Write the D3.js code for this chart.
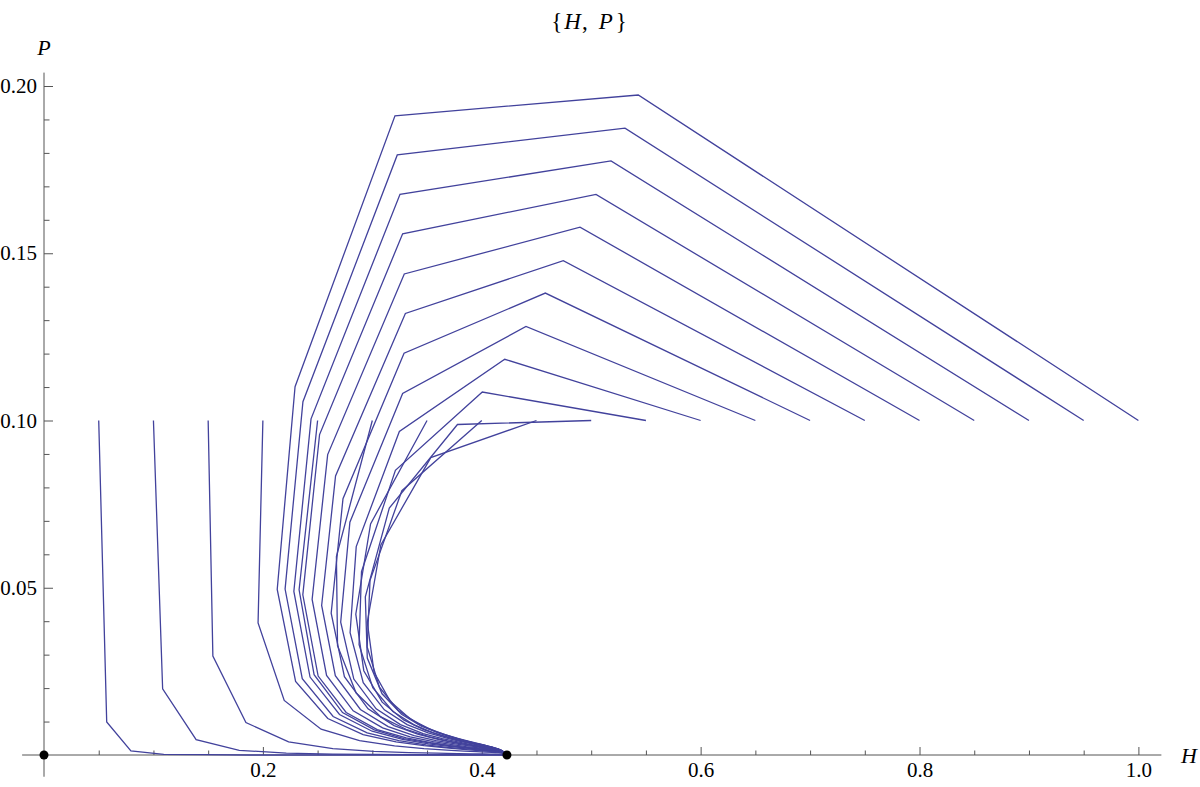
<!DOCTYPE html>
<html>
<head>
<meta charset="utf-8">
<script src="https://cdn.jsdelivr.net/npm/d3@7"></script>
<style>
  body { margin: 0; background: #fff; }
  text { font-family: "Liberation Serif", "DejaVu Serif", serif; }
</style>
</head>
<body>
<div id="chart"></div>
<script>
var width = 1200;
var height = 787;

// trajectories {H, P}, one per starting H (P starts at 0.1)
var t05 = [[0.05,0.1],[0.0573,0.0099],[0.0794,0.0012],[0.1094,0.0002],[0.1462,0.0001],[0.188,0],[0.2317,0],[0.2737,0],[0.3108,0],[0.3414,0],[0.3651,0],[0.3827,0],[0.3953,0],[0.404,0],[0.41,0],[0.4145,0],[0.423,0]];
var t10 = [[0.1,0.1],[0.1084,0.0198],[0.139,0.0046],[0.1784,0.0014],[0.2214,0.00055],[0.2639,0.00027],[0.3025,0.00016],[0.335,0.0001],[0.3605,0.00007],[0.3796,0.00005],[0.3933,0.00004],[0.4029,0.00003],[0.4095,0.00002],[0.414,0.00002],[0.423,0]];
var t15 = [[0.15,0.1],[0.1543,0.0296],[0.1845,0.0097],[0.2235,0.0039],[0.2639,0.0019],[0.3014,0.0011],[0.3333,0.00074],[0.3587,0.00054],[0.3778,0.00043],[0.3917,0.00036],[0.4015,0.00031],[0.4082,0.00027],[0.4128,0.00024],[0.416,0.00021],[0.4195,0.00015],[0.4215,0.00008],[0.423,0]];
var t20 = [[0.2,0.1],[0.1956,0.0395],[0.2195,0.0163],[0.2532,0.0077],[0.2883,0.0043],[0.3203,0.0027],[0.3471,0.0019],[0.3681,0.00145],[0.3839,0.00117],[0.3953,0.00099],[0.4034,0.00086],[0.4091,0.00077],[0.413,0.0007],[0.4157,0.00064],[0.419,0.00055],[0.4205,0.00045],[0.4218,0.0003],[0.423,0]];
var t25 = [[0.25,0.1],[0.2331,0.0494],[0.2468,0.024],[0.2728,0.0127],[0.3018,0.0075],[0.3289,0.0049],[0.352,0.0036],[0.3704,0.0028],[0.3844,0.0022],[0.3948,0.0019],[0.4022,0.0016],[0.4076,0.0014],[0.4114,0.0013],[0.4141,0.0012],[0.416,0.0011],[0.4188,0.0009],[0.4205,0.0007],[0.4222,0.0003],[0.423,0]];
var t30 = [[0.3,0.1],[0.2672,0.0593],[0.2682,0.0327],[0.2851,0.0186],[0.3078,0.0114],[0.3308,0.0077],[0.3513,0.0055],[0.3683,0.0042],[0.3817,0.0034],[0.3918,0.0029],[0.3994,0.0025],[0.4049,0.0022],[0.4089,0.0019],[0.4118,0.0017],[0.4139,0.0016],[0.4155,0.0014],[0.418,0.0012],[0.4198,0.0009],[0.4214,0.0005],[0.423,0]];
var t35 = [[0.35,0.1],[0.2984,0.0691],[0.2849,0.0421],[0.2922,0.0252],[0.309,0.0158],[0.3286,0.0105],[0.3475,0.0075],[0.3639,0.0057],[0.3773,0.0045],[0.3878,0.0037],[0.3958,0.0032],[0.4018,0.0028],[0.4063,0.0024],[0.4096,0.0022],[0.4121,0.002],[0.4139,0.0018],[0.4165,0.0015],[0.419,0.0011],[0.421,0.0006],[0.423,0]];
var t40 = [[0.4,0.1],[0.327,0.079],[0.2979,0.0522],[0.2953,0.0323],[0.3065,0.0203],[0.3235,0.0134],[0.3415,0.0094],[0.358,0.007],[0.372,0.0055],[0.3833,0.0044],[0.3921,0.0037],[0.3988,0.0032],[0.4039,0.0028],[0.4077,0.0025],[0.4105,0.0022],[0.4126,0.002],[0.4155,0.0017],[0.4183,0.0013],[0.4207,0.0007],[0.423,0]];
var t45 = [[0.45,0.1],[0.3534,0.0889],[0.3078,0.0628],[0.2954,0.0397],[0.3016,0.0247],[0.3165,0.016],[0.3342,0.0109],[0.3514,0.0079],[0.3664,0.0061],[0.3788,0.0049],[0.3886,0.0041],[0.3961,0.0035],[0.4018,0.003],[0.4061,0.0026],[0.4093,0.0024],[0.4117,0.0021],[0.415,0.0018],[0.418,0.0014],[0.4205,0.0008],[0.423,0]];
var t50 = [[0.5,0.1],[0.3778,0.0988],[0.3155,0.0738],[0.2936,0.0473],[0.2954,0.029],[0.3089,0.0183],[0.3267,0.0122],[0.3448,0.0086],[0.361,0.0065],[0.3746,0.0051],[0.3854,0.0042],[0.3938,0.0035],[0.4001,0.0031],[0.4049,0.0027],[0.4084,0.0024],[0.4111,0.0021],[0.4147,0.0018],[0.4178,0.0014],[0.4205,0.0008],[0.423,0]];
var t55 = [[0.55,0.1],[0.4005,0.1085],[0.3211,0.0851],[0.2901,0.0548],[0.2879,0.033],[0.3004,0.0201],[0.3188,0.013],[0.3381,0.009],[0.3558,0.0066],[0.3707,0.0052],[0.3826,0.0042],[0.3918,0.0035],[0.3988,0.003],[0.4041,0.0026],[0.408,0.0023],[0.4109,0.0021],[0.4145,0.0018],[0.4177,0.0014],[0.4205,0.0008],[0.423,0]];
var t60 = [[0.6,0.1],[0.421,0.1183],[0.3247,0.0967],[0.2853,0.0623],[0.2797,0.0366],[0.2917,0.0216],[0.311,0.0135],[0.3318,0.0091],[0.351,0.0066],[0.3672,0.0051],[0.3802,0.0041],[0.3903,0.0034],[0.3979,0.0029],[0.4035,0.0025],[0.4077,0.0022],[0.4107,0.002],[0.4145,0.0017],[0.4177,0.0013],[0.4205,0.0008],[0.423,0]];
var t65 = [[0.65,0.1],[0.4404,0.1281],[0.3277,0.1081],[0.2795,0.0696],[0.2711,0.0397],[0.2831,0.0227],[0.3035,0.0138],[0.3257,0.0091],[0.3464,0.0064],[0.364,0.0049],[0.3781,0.0039],[0.3889,0.0032],[0.397,0.0027],[0.4031,0.0024],[0.4075,0.0021],[0.4107,0.0019],[0.4147,0.0016],[0.418,0.0012],[0.4207,0.0007],[0.423,0]];
var t70 = [[0.7,0.1],[0.4581,0.1381],[0.329,0.1201],[0.2732,0.0766],[0.2624,0.0424],[0.2745,0.0234],[0.2961,0.0138],[0.3199,0.0088],[0.3421,0.0062],[0.361,0.0046],[0.3761,0.0036],[0.3877,0.003],[0.3964,0.0026],[0.4028,0.0022],[0.4074,0.002],[0.4108,0.0018],[0.4148,0.0015],[0.4182,0.0011],[0.4208,0.0006],[0.423,0]];
var t75 = [[0.75,0.1],[0.4745,0.1478],[0.3302,0.132],[0.2664,0.0834],[0.2537,0.0447],[0.2662,0.0237],[0.2891,0.0136],[0.3145,0.0085],[0.3382,0.0058],[0.3583,0.0043],[0.3744,0.0034],[0.3867,0.0028],[0.3959,0.0024],[0.4026,0.002],[0.4075,0.0018],[0.411,0.0016],[0.415,0.0014],[0.4185,0.001],[0.421,0.0005],[0.423,0]];
var t80 = [[0.8,0.1],[0.4898,0.1578],[0.3292,0.1438],[0.2592,0.0898],[0.245,0.0465],[0.2582,0.0238],[0.2825,0.0132],[0.3094,0.0081],[0.3345,0.0054],[0.3558,0.004],[0.3728,0.0031],[0.3859,0.0025],[0.3955,0.0022],[0.4025,0.0019],[0.4075,0.0017],[0.4111,0.0015],[0.4152,0.0013],[0.4187,0.0009],[0.4212,0.0005],[0.423,0]];
var t85 = [[0.85,0.1],[0.5044,0.1676],[0.3277,0.1558],[0.2518,0.0958],[0.2365,0.0479],[0.2505,0.0236],[0.2761,0.0127],[0.3045,0.0076],[0.331,0.0051],[0.3535,0.0037],[0.3714,0.0028],[0.3851,0.0023],[0.3951,0.002],[0.4024,0.0017],[0.4076,0.0015],[0.4113,0.0013],[0.4155,0.0011],[0.4189,0.0008],[0.4213,0.0004],[0.423,0]];
var t90 = [[0.9,0.1],[0.5181,0.1776],[0.3253,0.1676],[0.244,0.1005],[0.2283,0.0489],[0.2431,0.0233],[0.27,0.0121],[0.2998,0.0071],[0.3276,0.0047],[0.3513,0.0033],[0.3701,0.0026],[0.3844,0.0021],[0.3949,0.0018],[0.4024,0.0015],[0.4078,0.0013],[0.4115,0.0012],[0.4157,0.001],[0.419,0.0007],[0.4214,0.0004],[0.423,0]];
var t95 = [[0.95,0.1],[0.5309,0.1874],[0.3228,0.1794],[0.2366,0.1056],[0.2203,0.0496],[0.236,0.0228],[0.2642,0.0115],[0.2953,0.0066],[0.3243,0.0043],[0.349,0.003],[0.3686,0.0023],[0.3835,0.0019],[0.3944,0.0016],[0.4022,0.0014],[0.4078,0.0012],[0.4116,0.0011],[0.4158,0.0009],[0.4192,0.0007],[0.4215,0.0004],[0.423,0]];
var t100 = [[1.0,0.1],[0.543,0.1973],[0.3207,0.1911],[0.2294,0.1101],[0.2131,0.0495],[0.2299,0.022],[0.2593,0.0109],[0.2916,0.0061],[0.3217,0.0039],[0.3472,0.0028],[0.3675,0.0021],[0.3829,0.0017],[0.3941,0.0014],[0.4022,0.0012],[0.4079,0.0011],[0.4117,0.001],[0.4158,0.0008],[0.4192,0.0006],[0.4215,0.0003],[0.423,0]];

var trayectorias = [t05, t10, t15, t20, t25, t30, t35, t40, t45, t50,
                    t55, t60, t65, t70, t75, t80, t85, t90, t95, t100];

// fixed points
var puntosFijos = [[0, 0], [0.423, 0]];

// ticks
var xTicks = [0.2, 0.4, 0.6, 0.8, 1.0];
var xMinorTicks = [0.05, 0.1, 0.15, 0.25, 0.3, 0.35, 0.45, 0.5, 0.55, 0.65, 0.7, 0.75, 0.85, 0.9, 0.95];
var yTicks = [0.05, 0.10, 0.15, 0.20];
var yMinorTicks = [0.01, 0.02, 0.03, 0.04, 0.06, 0.07, 0.08, 0.09, 0.11, 0.12, 0.13, 0.14, 0.16, 0.17, 0.18, 0.19];

var x = d3.scaleLinear().domain([0, 1]).range([44, 1138.4]);
var y = d3.scaleLinear().domain([0, 0.2]).range([755, 86]);

var canvas = d3.select("#chart")
				.append("svg")
				.attr("width", width)
				.attr("height", height)
				.style("background", "#fff");

var colorEje = "#555";

// axis lines (they reach a bit past the data on both sides)
canvas.append("line")
		.attr("x1", x(-0.02)).attr("x2", x(1.021))
		.attr("y1", y(0)).attr("y2", y(0))
		.attr("stroke", colorEje).attr("stroke-width", 1);
canvas.append("line")
		.attr("x1", x(0)).attr("x2", x(0))
		.attr("y1", y(-0.0065)).attr("y2", y(0.204))
		.attr("stroke", colorEje).attr("stroke-width", 1);

function estiloEje(g) {
	g.select(".domain").remove();
	g.selectAll(".tick line").attr("stroke", colorEje);
	g.selectAll(".tick text")
		.attr("font-family", "'Liberation Serif', serif")
		.attr("font-size", 21)
		.attr("fill", "#000");
}

canvas.append("g")
		.attr("transform", "translate(0," + y(0) + ")")
		.call(d3.axisBottom(x).tickValues(xTicks).tickSizeInner(-8).tickSizeOuter(0)
				.tickPadding(7).tickFormat(d3.format(".1f")))
		.call(estiloEje);
canvas.append("g")
		.attr("transform", "translate(0," + y(0) + ")")
		.call(d3.axisBottom(x).tickValues(xMinorTicks).tickSizeInner(-4.5).tickSizeOuter(0)
				.tickFormat(""))
		.call(estiloEje);
canvas.append("g")
		.attr("transform", "translate(" + x(0) + ",0)")
		.call(d3.axisLeft(y).tickValues(yTicks).tickSizeInner(-9).tickSizeOuter(0)
				.tickPadding(7).tickFormat(d3.format(".2f")))
		.call(estiloEje);
canvas.append("g")
		.attr("transform", "translate(" + x(0) + ",0)")
		.call(d3.axisLeft(y).tickValues(yMinorTicks).tickSizeInner(-5.5).tickSizeOuter(0)
				.tickFormat(""))
		.call(estiloEje);

// trajectories
var linea = d3.line()
				.x(function(d) { return x(d[0]); })
				.y(function(d) { return y(d[1]); });

canvas.append("g")
		.selectAll("path")
		.data(trayectorias)
		.enter()
		.append("path")
		.attr("d", linea)
		.attr("fill", "none")
		.attr("stroke", "#42429c")
		.attr("stroke-width", 1.3)
		.attr("stroke-linejoin", "miter");

// fixed points
canvas.append("g")
		.selectAll("circle")
		.data(puntosFijos)
		.enter()
		.append("circle")
		.attr("cx", function(d) { return x(d[0]); })
		.attr("cy", function(d) { return y(d[1]); })
		.attr("r", 4.5)
		.attr("fill", "#000");

// axis labels
canvas.append("text")
		.attr("x", 1181).attr("y", 763)
		.attr("font-size", 22).attr("font-style", "italic")
		.text("H");
canvas.append("text")
		.attr("x", 44).attr("y", 55)
		.attr("text-anchor", "middle")
		.attr("font-size", 22).attr("font-style", "italic")
		.text("P");

// title {H, P}
var titulo = canvas.append("text")
		.attr("x", 589).attr("y", 29)
		.attr("text-anchor", "middle")
		.attr("font-size", 23);
titulo.append("tspan").text("{");
titulo.append("tspan").attr("dx", 2).attr("font-style", "italic").text("H");
titulo.append("tspan").attr("dx", 1).text(",");
titulo.append("tspan").attr("dx", 11).attr("font-style", "italic").text("P");
titulo.append("tspan").attr("dx", 3).text("}");
</script>
</body>
</html>
